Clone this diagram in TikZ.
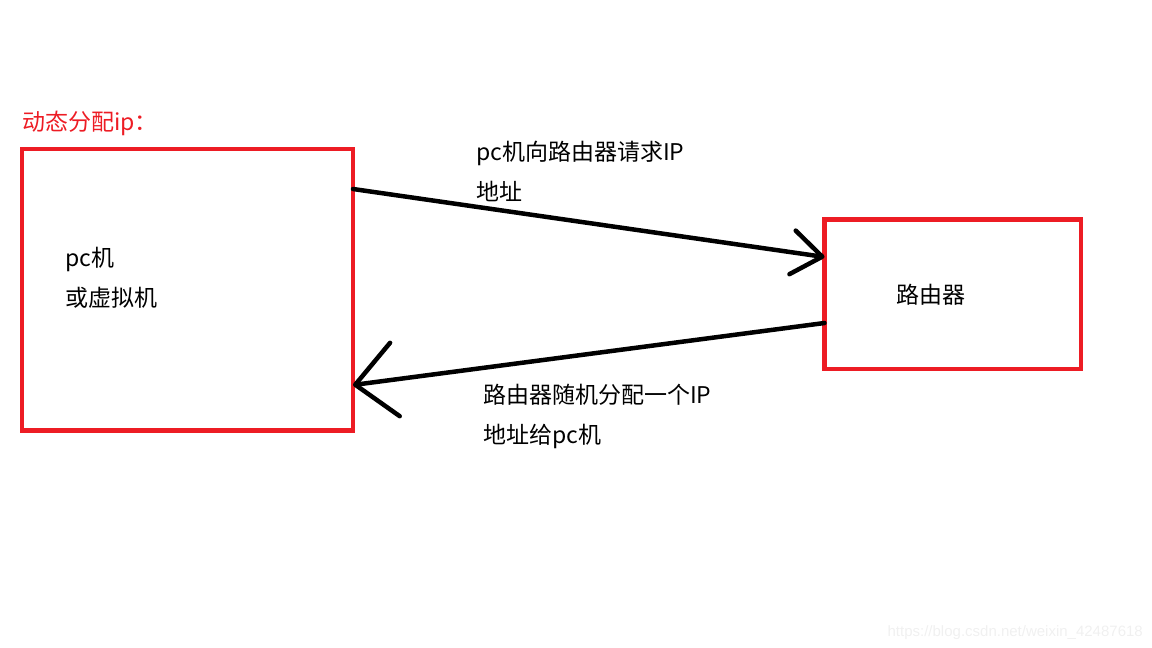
\documentclass[tikz,border=0pt]{standalone}
\usepackage{fontspec}
\newfontfamily\cjk{Noto Sans CJK SC}
\newfontfamily\markfont{Liberation Sans}
\usetikzlibrary{arrows.meta}
\definecolor{paintred}{RGB}{237,28,36}

\begin{document}
\begin{tikzpicture}[x=1pt,y=-1pt,
  box/.style={draw=paintred,line width=4.5pt,outer sep=0pt,inner sep=0pt},
  txt/.style={font=\cjk\fontsize{23}{40}\selectfont,inner sep=0pt,align=left,anchor=base west},
  link/.style={line width=4.5pt,line cap=round,line join=round}]
\useasboundingbox (0,0) rectangle (1152,648);
% the two boxes
\node[box,minimum width=331pt,minimum height=281.5pt] (pc) at (187.5,289.75) {};
\node[box,minimum width=256.5pt,minimum height=149.3pt] (router) at (952.75,294.35) {};
% texts (base = last line)
\node[txt,text=paintred] (title) at (22,130) {动态分配ip：};
\node[txt] (pctext) at (65,306) {pc机\\或虚拟机};
\node[txt] (routertext) at (896,303) {路由器};
\node[txt] (reqtext) at (476,200) {pc机向路由器请求IP\\地址};
\node[txt] (acktext) at (483,443) {路由器随机分配一个IP\\地址给pc机};
% request and answer
\draw[link,-{Straight Barb[length=30pt,width=44pt,round]}] ([yshift=100.75pt]pc.east) -- ([yshift=37.35pt]router.west);
\draw[link,-{Straight Barb[length=40pt,width=74pt,round]}] ([yshift=-28.65pt]router.west) -- ([yshift=-95.25pt]pc.east);
\node[font=\markfont\fontsize{15}{18}\selectfont,text=black!6,inner sep=0pt,anchor=base east] (mark) at (1143,636) {https://blog.csdn.net/weixin\_42487618};
\end{tikzpicture}
\end{document}
